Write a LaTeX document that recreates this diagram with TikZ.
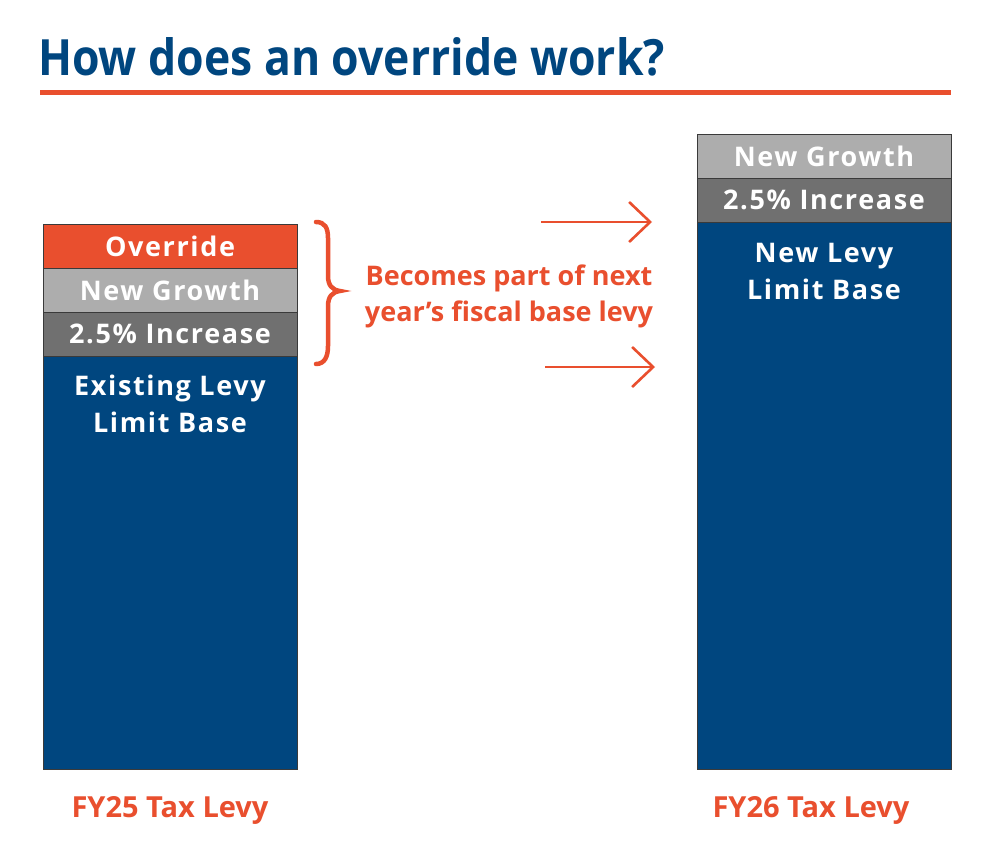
\documentclass[tikz,border=0pt]{standalone}
\usepackage{fontspec}
\setmainfont{Open Sans}
\newfontfamily\condbold[FakeStretch=0.89]{Open Sans Bold}
\newfontfamily\spacedbold[LetterSpace=6]{Open Sans Bold}
\newfontfamily\plainbold{Open Sans Bold}
\usetikzlibrary{arrows.meta}
\definecolor{orng}{HTML}{E94F2E}
\definecolor{navy}{HTML}{00467F}
\definecolor{lgray}{HTML}{ADADAD}
\definecolor{dgray}{HTML}{707070}
\definecolor{edge}{HTML}{3A3A3A}
\tikzset{
  seg/.style={draw=edge, line width=0.8pt, minimum width=254pt, inner sep=0pt, outer sep=0pt, anchor=north west},
  lbl/.style={text=white, font=\spacedbold\fontsize{27}{30}\selectfont, inner sep=0pt},
  blbl/.style={text=white, font=\spacedbold\fontsize{27}{37}\selectfont, align=center, inner sep=0pt},
  olbl/.style={text=orng, font=\plainbold\fontsize{27}{36}\selectfont, align=center, inner sep=0pt},
  fylbl/.style={text=orng, font=\plainbold\fontsize{29}{36}\selectfont, inner sep=0pt},
  arr/.style={draw=orng, line width=2.6pt, -{Straight Barb[length=21pt,width=40pt,line width=2.6pt]}},
}
\begin{document}
\begin{tikzpicture}[x=1pt,y=-1pt]
\useasboundingbox[fill=white] (0,0) rectangle (1000,853);
% title
\node[anchor=base west, text=navy, font=\condbold\fontsize{50}{56}\selectfont, inner sep=0pt] (title) at (38,76) {How does an override work?};
\draw[orng, line width=5pt] (40,93) coordinate (r1) -- (951,93) coordinate (r2);
% left bar
\node[seg, fill=navy, minimum height=413pt] (lbase) at (43,356) {};
\node[seg, fill=dgray, minimum height=44pt] (linc) at (43,312) {};
\node[seg, fill=lgray, minimum height=44pt] (lgro) at (43,268) {};
\node[seg, fill=orng, minimum height=44pt] (lovr) at (43,224) {};
\node[lbl] (tovr) at (lovr.center) {Override};
\node[lbl] (tgro) at (lgro.center) {New Growth};
\node[lbl] (tinc) at (linc.center) {2.5\% Increase};
\node[blbl, anchor=north] (tbase) at (170,375) {Existing Levy\\Limit Base};
% right bar
\node[seg, fill=navy, minimum height=547pt] (rbase) at (697,222) {};
\node[seg, fill=dgray, minimum height=44pt] (rinc) at (697,178) {};
\node[seg, fill=lgray, minimum height=44pt] (rgro) at (697,134) {};
\node[lbl] (trgro) at (rgro.center) {New Growth};
\node[lbl] (trinc) at (rinc.center) {2.5\% Increase};
\node[blbl, anchor=north] (trbase) at (824,243) {New Levy\\Limit Base};
% brace
\draw[orng, line width=4.5pt, line cap=round]
  (316,222) .. controls (325,222) and (328,228) .. (328,238) -- (328,276)
  .. controls (328,285) and (332,290) .. (340,291)
  .. controls (332,292) and (328,297) .. (328,306) -- (328,346)
  .. controls (328,356) and (325,364) .. (316,364);
% middle text
\node[olbl] (mid) at (509,296) {Becomes part of next\\year’s fiscal base levy};
% arrows
\coordinate (a1s) at (541,222); \coordinate (a1e) at (652,222);
\coordinate (a2s) at (545,367); \coordinate (a2e) at (655,367);
\draw[arr] (a1s) -- (a1e);
\draw[arr] (a2s) -- (a2e);
% bottom labels
\node[fylbl, anchor=base] (fy25) at (170,817) {FY25 Tax Levy};
\node[fylbl, anchor=base] (fy26) at (811,817) {FY26 Tax Levy};
\end{tikzpicture}
\end{document}
